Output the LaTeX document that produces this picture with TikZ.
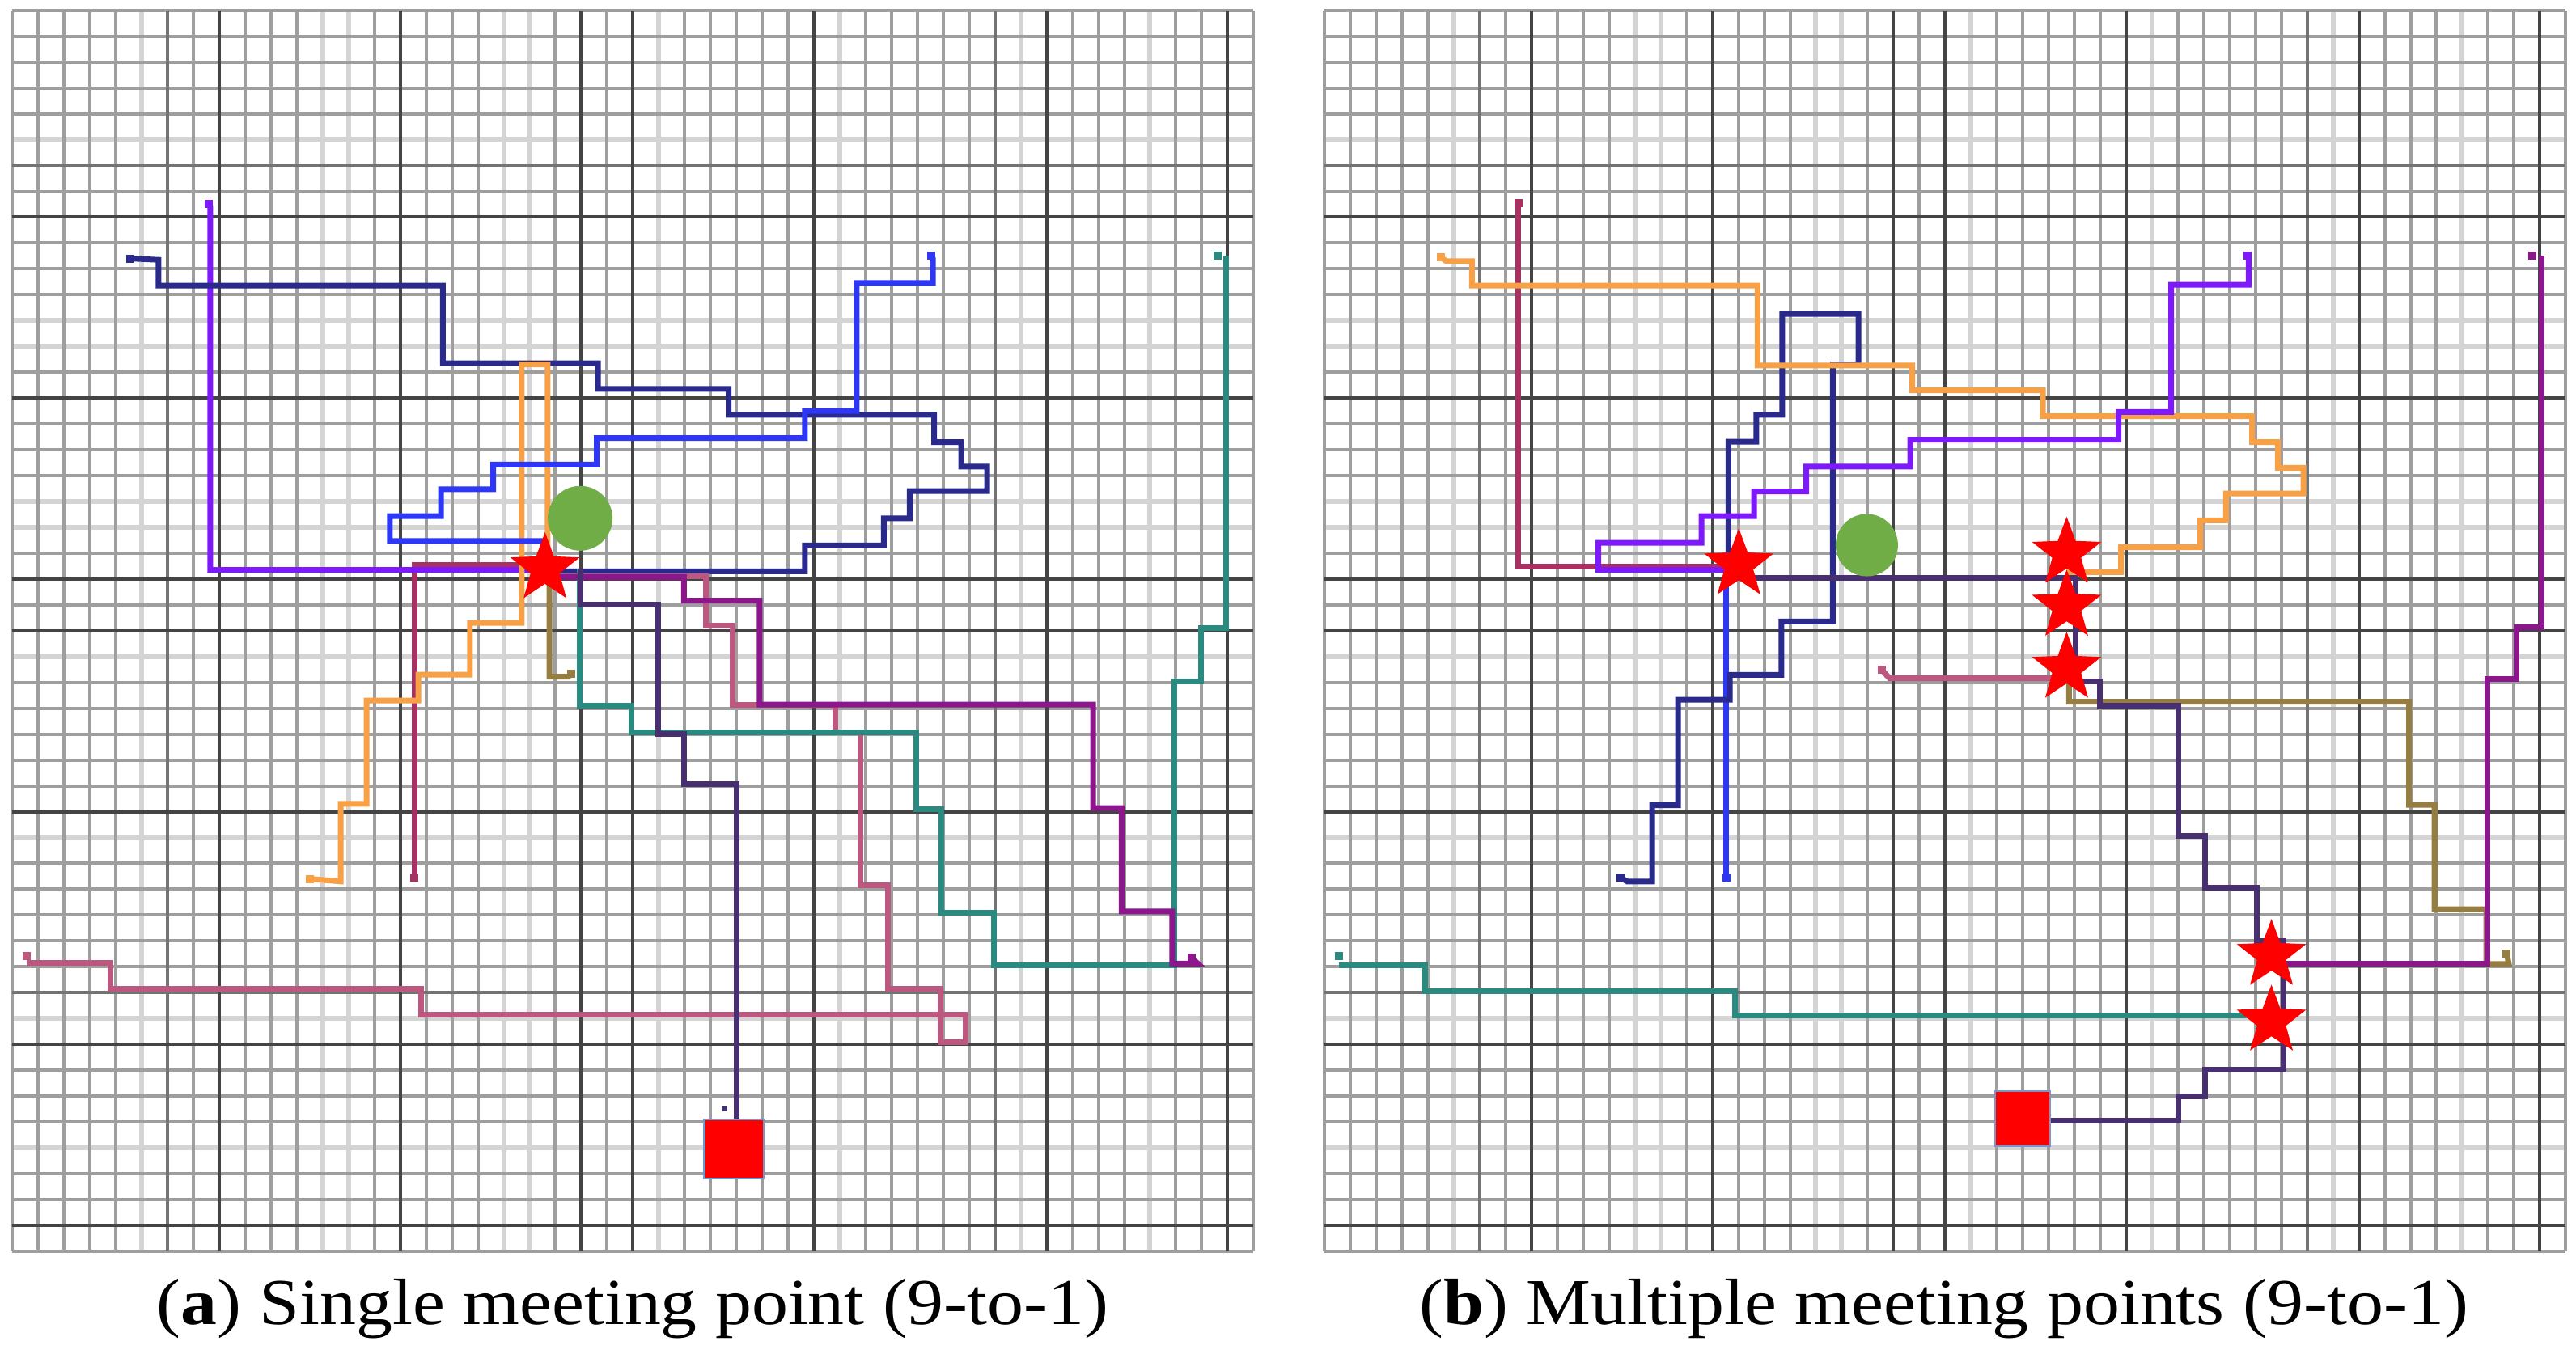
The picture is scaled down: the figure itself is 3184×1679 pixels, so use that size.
\documentclass[tikz,border=0pt]{standalone}
\usepackage{fontspec}
\setmainfont{Liberation Serif}[FakeStretch=1.11]
\usetikzlibrary{shapes.geometric}
\pgfdeclarelayer{gridlayer}
\pgfdeclarelayer{pathlayer}
\pgfsetlayers{gridlayer,pathlayer,main}
\definecolor{cNavy}{RGB}{42,42,140}
\definecolor{cViolet}{RGB}{125,25,250}
\definecolor{cBlue}{RGB}{45,55,245}
\definecolor{cOrange}{RGB}{247,160,70}
\definecolor{cCrimson}{RGB}{168,48,98}
\definecolor{cRose}{RGB}{188,88,128}
\definecolor{cOlive}{RGB}{150,125,65}
\definecolor{cTeal}{RGB}{42,138,128}
\definecolor{cMagenta}{RGB}{140,22,140}
\definecolor{cIndigo}{RGB}{72,48,112}
\definecolor{cGreen}{RGB}{112,173,71}
\definecolor{cSqEdge}{RGB}{120,150,200}
\definecolor{cGridReg}{RGB}{158,158,158}
\definecolor{cGridMed}{RGB}{115,115,115}
\definecolor{cGridDark}{RGB}{68,68,68}
\definecolor{cGridLight}{RGB}{212,212,212}
\tikzset{
  gr/.style={draw=cGridReg, line width=0.04cm},
  gm/.style={draw=cGridMed, line width=0.04cm},
  gd/.style={draw=cGridDark, line width=0.04cm},
  gl/.style={draw=cGridLight, line width=0.06cm},
  pth/.style={line width=0.07cm, line join=miter},
  enddot/.style={rectangle, minimum size=0.1cm, inner sep=0pt, draw=none},
  mstar/.style={star, star points=5, star point ratio=2.4, fill=red, draw=red, line width=0.3pt, minimum size=0.87cm, inner sep=0pt},
  goal/.style={circle, fill=cGreen, draw=none, inner sep=0pt},
  sqnode/.style={rectangle, fill=red, draw=cSqEdge, line width=0.02cm, inner sep=0pt},
  captext/.style={anchor=base, inner sep=0pt, font=\fontsize{23pt}{27pt}\selectfont}
}
\newcommand\mygridpanel{%
  \foreach \k in {5,12,13,19,20,25,32,39,44}{\draw[gl] (\k,0)--(\k,48); \draw[gl] (0,\k)--(48,\k);}
  \foreach \k in {0,1,2,3,4,7,9,10,11,14,16,17,18,21,23,26,27,28,29,30,33,34,35,36,37,41,42,43,45,46,48}{\draw[gr] (\k,0)--(\k,48); \draw[gr] (0,\k)--(48,\k);}
  \foreach \k in {6,38}{\draw[gm] (\k,0)--(\k,48); \draw[gm] (0,\k)--(48,\k);}
  \foreach \k in {8,15,22,24,31,40,47}{\draw[gd] (\k,0)--(\k,48); \draw[gd] (0,\k)--(48,\k);}
}
\begin{document}
\begin{tikzpicture}[x=0.01cm, y=-0.01cm]
\useasboundingbox (0,0) rectangle (3184,1679);

%%%%%%%%%%%%%%%% Panel (a)
\begin{scope}[shift={(0.153cm,-0.128cm)}, x=0.3194cm, y=-0.3194cm]
\begin{pgfonlayer}{gridlayer}\mygridpanel\end{pgfonlayer}
% nodes
\node[mstar] (aStar) at (20.6,21.6) {};
\node[goal, minimum size=0.8cm] (aGoal) at (21.96,19.65) {};
\node[sqnode, minimum size=0.735cm] (aSq) at (27.91,44.05) {};
\node[enddot, fill=cNavy] (aNavS) at (4.55,9.6) {};
\node[enddot, fill=cViolet] (aVioS) at (7.6,7.5) {};
\node[enddot, fill=cBlue] (aBluS) at (35.55,9.5) {};
\node[enddot, fill=cOrange] (aOrS) at (11.5,33.6) {};
\node[enddot, fill=cCrimson] (aCrimS) at (15.55,33.55) {};
\node[enddot, fill=cOlive] (aOlS) at (21.6,25.65) {};
\node[enddot, fill=cTeal] (aTealS) at (46.6,9.5) {};
\node[enddot, fill=cRose] (aRoseS) at (0.55,36.6) {};
\node[enddot, fill=cMagenta] (aMagS) at (45.6,36.65) {};
\node[enddot, fill=cIndigo, minimum size=0.06cm] (aIndS) at (27.55,42.5) {};
\begin{pgfonlayer}{pathlayer}
\draw[pth, cCrimson] (aCrimS.center) -- (15.55,21.45) -- (aStar |- 0,21.45);
\draw[pth, cViolet] (aVioS.center) -- (7.65,7.6) -- (7.65,21.65) -- (aStar |- 0,21.65);
\draw[pth, cNavy] (aNavS.center) -- (5.65,9.65) -- (5.65,10.65) -- (16.65,10.65) -- (16.65,13.65)
  -- (22.65,13.65) -- (22.65,14.65) -- (27.7,14.65) -- (27.7,15.65) -- (35.65,15.65) -- (35.65,16.7)
  -- (36.7,16.7) -- (36.7,17.65) -- (37.7,17.65) -- (37.7,18.6) -- (34.7,18.6) -- (34.7,19.65)
  -- (33.7,19.65) -- (33.7,20.7) -- (30.65,20.7) -- (30.65,21.7) -- (aStar |- 0,21.7);
\draw[pth, cOrange] (aOrS.center) -- (12.7,33.7) -- (12.7,30.7) -- (13.7,30.7) -- (13.7,26.7)
  -- (15.7,26.7) -- (15.7,25.7) -- (17.7,25.7) -- (17.7,23.7) -- (19.7,23.7) -- (19.7,13.7)
  -- (20.7,13.7) -- (aStar -| 20.7,0);
\draw[pth, cBlue] (aBluS.center) -- (35.6,9.6) -- (35.6,10.55) -- (32.65,10.55) -- (32.65,15.5)
  -- (30.65,15.5) -- (30.65,16.55) -- (22.6,16.55) -- (22.6,17.57) -- (18.6,17.57) -- (18.6,18.53)
  -- (16.58,18.53) -- (16.58,19.57) -- (14.6,19.57) -- (14.6,20.53) -- (aStar |- 0,20.53);
\draw[pth, cRose] (aRoseS |- 0,36.85) -- (3.8,36.85) -- (3.8,37.85) -- (15.8,37.85)
  -- (15.8,38.86) -- (36.88,38.86) -- (36.88,39.93) -- (35.9,39.93) -- (35.9,37.85) -- (33.85,37.85)
  -- (33.85,33.86) -- (32.8,33.86) -- (32.8,27.92) -- (31.82,27.92) -- (31.82,26.88) -- (27.87,26.88)
  -- (27.87,23.8) -- (26.83,23.8) -- (26.83,21.88) -- (aStar |- 0,21.88);
\draw[pth, cTeal] (aStar -| 21.93,0) -- (21.93,26.9) -- (23.93,26.9) -- (23.93,27.92) -- (34.97,27.92)
  -- (34.97,30.9) -- (35.94,30.9) -- (35.94,34.9) -- (37.96,34.9) -- (37.96,36.94) -- (44.95,36.94)
  -- (44.95,25.95) -- (45.97,25.95) -- (45.97,23.9) -- (46.95,23.9) -- (aTealS -| 46.95,0);
\draw[pth, cMagenta] (aStar |- 0,21.92) -- (25.97,21.92) -- (25.97,22.84) -- (28.9,22.84) -- (28.9,26.86)
  -- (41.8,26.86) -- (41.8,30.86) -- (42.9,30.86) -- (42.9,34.86) -- (44.86,34.86) -- (44.86,36.88)
  -- (45.85,36.88) -- (aMagS.center);
\draw[pth, cOlive] (aStar -| 20.77,0) -- (20.77,25.78) -- (21.5,25.78) -- (aOlS.center);
\draw[pth, cIndigo] (aStar -| 21.97,0) -- (21.97,23.0) -- (24.98,23.0) -- (24.98,28.0) -- (25.98,28.0)
  -- (25.98,29.95) -- (28.0,29.95) -- (aSq.north -| 28.0,0);
\end{pgfonlayer}
\end{scope}

%%%%%%%%%%%%%%%% Panel (b)
\begin{scope}[shift={(16.363cm,-0.128cm)}, x=0.3194cm, y=-0.3194cm]
\begin{pgfonlayer}{gridlayer}\mygridpanel\end{pgfonlayer}
\node[mstar] (bS1) at (16.02,21.45) {};
\node[mstar] (bS2) at (28.7,21.0) {};
\node[mstar] (bS3) at (28.7,23.05) {};
\node[mstar] (bS4) at (28.7,25.45) {};
\node[mstar] (bS5) at (36.62,36.56) {};
\node[mstar] (bS6) at (36.62,39.1) {};
\node[goal, minimum size=0.77cm] (bGoal) at (20.97,20.69) {};
\node[sqnode, minimum size=0.68cm] (bSq) at (27.0,42.88) {};
\node[enddot, fill=cOrange] (bOrS) at (4.5,9.55) {};
\node[enddot, fill=cCrimson] (bCrimS) at (7.5,7.45) {};
\node[enddot, fill=cViolet] (bVioS) at (35.68,9.5) {};
\node[enddot, fill=cNavy] (bNavS) at (11.45,33.55) {};
\node[enddot, fill=cBlue] (bBluS) at (15.54,33.55) {};
\node[enddot, fill=cRose] (bRoseS) at (21.55,25.52) {};
\node[enddot, fill=cTeal] (bTealS) at (0.55,36.6) {};
\node[enddot, fill=cOlive] (bOlS) at (45.72,36.5) {};
\node[enddot, fill=cMagenta] (bMagS) at (46.72,9.5) {};
\begin{pgfonlayer}{pathlayer}
\draw[pth, cCrimson] (bCrimS.center) -- (7.5,21.53) -- (bS1 |- 0,21.53);
\draw[pth, cBlue] (bS1 -| 15.54,0) -- (bBluS.center);
\draw[pth, cNavy] (bNavS.center) -- (11.7,33.7) -- (12.67,33.7) -- (12.67,30.75) -- (13.67,30.75) -- (13.67,26.67)
  -- (15.67,26.67) -- (15.67,25.71) -- (17.67,25.71) -- (17.67,23.64) -- (19.65,23.64) -- (19.65,13.7)
  -- (20.65,13.7) -- (20.65,11.74) -- (17.7,11.74) -- (17.7,15.65) -- (16.7,15.65) -- (16.7,16.69)
  -- (15.62,16.69) -- (bS1 -| 15.62,0);
\draw[pth, cOrange] (bOrS.center) -- (4.7,9.7) -- (5.7,9.7) -- (5.7,10.65) -- (16.74,10.65) -- (16.74,13.74)
  -- (22.73,13.74) -- (22.73,14.7) -- (27.78,14.7) -- (27.78,15.7) -- (35.87,15.7) -- (35.87,16.7)
  -- (36.86,16.7) -- (36.86,17.7) -- (37.86,17.7) -- (37.86,18.69) -- (34.86,18.69) -- (34.86,19.73)
  -- (33.87,19.73) -- (33.87,20.77) -- (30.8,20.77) -- (30.8,21.73) -- (bS2 |- 0,21.73);
\draw[pth, cViolet] (bVioS.center) -- (35.74,9.6) -- (35.74,10.62) -- (32.74,10.62) -- (32.74,15.54)
  -- (30.71,15.54) -- (30.71,16.61) -- (22.65,16.61) -- (22.65,17.65) -- (18.63,17.65) -- (18.63,18.61)
  -- (16.61,18.61) -- (16.61,19.57) -- (14.58,19.57) -- (14.58,20.6) -- (10.59,20.6) -- (10.59,21.65)
  -- (bS1 |- 0,21.65);
\draw[pth, cRose] (bRoseS.center) -- (21.85,25.84) -- (bS4 |- 0,25.84);
\draw[pth, cTeal] (bTealS |- 0,36.94) -- (3.88,36.94) -- (3.88,37.96) -- (15.86,37.96)
  -- (15.86,38.89) -- (bS6 |- 0,38.89);
\draw[pth, cOlive] (bS4 -| 28.79,0) -- (28.79,26.75) -- (41.94,26.75) -- (41.94,30.74) -- (42.93,30.74)
  -- (42.93,34.77) -- (44.93,34.77) -- (44.93,36.89) -- (45.8,36.89) -- (bOlS.center);
\draw[pth, cMagenta] (bMagS -| 47.08,0) -- (47.08,23.87) -- (46.09,23.87) -- (46.09,25.87)
  -- (44.97,25.87) -- (44.97,36.89) -- (bS5 |- 0,36.89);
\draw[pth, cIndigo] (bS1 |- 0,21.96) -- (29.03,21.96) -- (29.03,25.95) -- (29.99,25.95) -- (29.99,26.91)
  -- (33.02,26.91) -- (33.02,31.94) -- (34.06,31.94) -- (34.06,33.94) -- (36.06,33.94) -- (36.06,36.02)
  -- (37.1,36.02) -- (37.1,40.97) -- (34.06,40.97) -- (34.06,42.0) -- (33.02,42.0) -- (33.02,42.96)
  -- (bSq.east |- 0,42.96);
\end{pgfonlayer}
\end{scope}

%%%%%%%%%%%%%%%% Captions
\node[captext] (capA) at (782,1637) {(\textbf{a}) Single meeting point (9-to-1)};
\node[captext] (capB) at (2403,1637) {(\textbf{b}) Multiple meeting points (9-to-1)};
\end{tikzpicture}
\end{document}
